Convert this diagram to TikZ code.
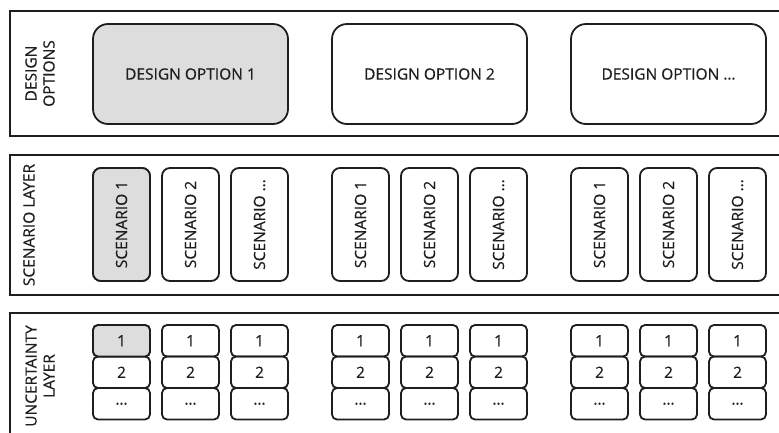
\documentclass[tikz,border=0pt]{standalone}
\usepackage{fontspec}
\setmainfont{Open Sans}[FakeBold=0.4]
\definecolor{inkgrey}{RGB}{30,30,30}
\definecolor{selgrey}{RGB}{221,221,222}
\tikzset{
  panel/.style={draw=inkgrey, line width=2.5pt, minimum width=780pt, inner sep=0pt},
  optionbox/.style={draw=inkgrey, line width=1.8pt, rounded corners=15pt,
    minimum width=195pt, minimum height=100pt, inner sep=0pt},
  scenbox/.style={draw=inkgrey, line width=1.8pt, rounded corners=8pt,
    minimum width=113pt, minimum height=57pt, inner sep=0pt, rotate=90},
  uncbox/.style={draw=inkgrey, line width=1.8pt, rounded corners=5pt,
    minimum width=57pt, minimum height=31.5pt, inner sep=0pt},
  sidelabel/.style={rotate=90, align=center},
  picked/.style={fill=selgrey}
}
\begin{document}
\begin{tikzpicture}[x=1pt, y=-1pt, font=\fontsize{15.5}{18}\selectfont, text=inkgrey]
  \useasboundingbox (0,0) rectangle (779,432);
  % layers
  \node[panel, minimum height=125pt] (optlayer) at (400,73.5) {};
  \node[panel, minimum height=140pt] (scenlayer) at (400,225) {};
  \node[panel, minimum height=127pt] (unclayer) at (400,376.5) {};
  \node[sidelabel] (optlabel) at (40,73.5) {DESIGN\\OPTIONS};
  \node[sidelabel] (scenlabel) at (29,225) {SCENARIO LAYER};
  \node[sidelabel] (unclabel) at (40,376) {UNCERTAINTY\\LAYER};
  % design options
  \draw
    (190.5,74) node[optionbox, picked] (opt1) {DESIGN OPTION 1}
    (429.5,74) node[optionbox] (opt2) {DESIGN OPTION 2}
    (668.5,74) node[optionbox] (opt3) {DESIGN OPTION …};
  % scenarios and uncertainties
  \foreach \g/\gx in {1/121.5, 2/360.5, 3/599.5} {
    \foreach \s/\sl in {1/1, 2/2, 3/…} {
      \pgfmathsetmacro{\cx}{\gx+69*(\s-1)}
      \node[scenbox] (scen\g\s) at (\cx,224.5) {SCENARIO \sl};
      \node[uncbox] (unc\g\s a) at (\cx,340.75) {1};
      \node[uncbox] (unc\g\s b) at (\cx,372.25) {2};
      \node[uncbox] (unc\g\s c) at (\cx,403.75) {…};
    }
  }
  \node[scenbox, picked] at (scen11) {SCENARIO 1};
  \node[uncbox, picked] at (unc11a) {1};
\end{tikzpicture}
\end{document}
